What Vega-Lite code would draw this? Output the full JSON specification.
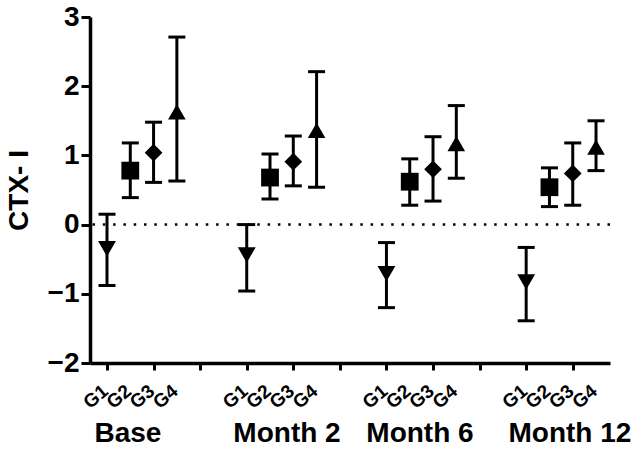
{
  "$schema": "https://vega.github.io/schema/vega-lite/v6.json",
  "width": 520,
  "height": 346,
  "autosize": "none",
  "padding": {"left": 90, "top": 17, "right": 30, "bottom": 89},
  "background": "white",
  "config": {
    "view": {"stroke": null},
    "font": "Liberation Sans",
    "axis": {"domainColor": "black", "tickColor": "black", "labelColor": "black", "titleColor": "black", "grid": false}
  },
  "datasets": {
    "pts": [
      {"group": "Base", "g": "G1", "slot": 0, "mean": -0.35, "lo": -0.88, "hi": 0.15},
      {"group": "Base", "g": "G2", "slot": 1, "mean": 0.78, "lo": 0.39, "hi": 1.18},
      {"group": "Base", "g": "G3", "slot": 2, "mean": 1.04, "lo": 0.61, "hi": 1.48},
      {"group": "Base", "g": "G4", "slot": 3, "mean": 1.63, "lo": 0.63, "hi": 2.71},
      {"group": "Month 2", "g": "G1", "slot": 6, "mean": -0.44, "lo": -0.96, "hi": 0.0},
      {"group": "Month 2", "g": "G2", "slot": 7, "mean": 0.68, "lo": 0.37, "hi": 1.02},
      {"group": "Month 2", "g": "G3", "slot": 8, "mean": 0.91, "lo": 0.56, "hi": 1.28},
      {"group": "Month 2", "g": "G4", "slot": 9, "mean": 1.36, "lo": 0.54, "hi": 2.21},
      {"group": "Month 6", "g": "G1", "slot": 12, "mean": -0.71, "lo": -1.2, "hi": -0.26},
      {"group": "Month 6", "g": "G2", "slot": 13, "mean": 0.62, "lo": 0.28, "hi": 0.95},
      {"group": "Month 6", "g": "G3", "slot": 14, "mean": 0.8, "lo": 0.34, "hi": 1.27},
      {"group": "Month 6", "g": "G4", "slot": 15, "mean": 1.17, "lo": 0.67, "hi": 1.72},
      {"group": "Month 12", "g": "G1", "slot": 18, "mean": -0.83, "lo": -1.39, "hi": -0.33},
      {"group": "Month 12", "g": "G2", "slot": 19, "mean": 0.54, "lo": 0.26, "hi": 0.82},
      {"group": "Month 12", "g": "G3", "slot": 20, "mean": 0.74, "lo": 0.28, "hi": 1.18},
      {"group": "Month 12", "g": "G4", "slot": 21, "mean": 1.12, "lo": 0.78, "hi": 1.5}
    ],
    "groups": [
      {"label": "Base", "pos": 0.9, "yv": -3.02},
      {"label": "Month 2", "pos": 7.73, "yv": -3.02},
      {"label": "Month 6", "pos": 13.44, "yv": -3.02},
      {"label": "Month 12", "pos": 19.88, "yv": -3.02}
    ],
    "zero": [{"z": 0}]
  },
  "layer": [
    {
      "data": {"name": "zero"},
      "mark": {"type": "rule", "strokeDash": [2.5, 7.8], "strokeWidth": 2.5, "color": "black"},
      "encoding": {
        "y": {"field": "z", "type": "quantitative", "scale": {"domain": [-2, 3], "nice": false, "zero": false},
          "axis": {"values": [-2, -1, 0, 1, 2, 3], "format": "d", "domainWidth": 3.5, "tickWidth": 3, "tickSize": 9, "labelFontSize": 28, "labelFontWeight": "bold", "labelPadding": 2, "title": "CTX- I", "titleFontSize": 28, "titleFontWeight": "bold", "titlePadding": 14}}
      }
    },
    {
      "data": {"name": "pts"},
      "mark": {"type": "rule", "strokeWidth": 3, "color": "black"},
      "encoding": {
        "x": {"field": "slot", "type": "quantitative", "scale": {"domain": [-0.73, 21.6], "nice": false, "zero": false},
          "axis": {"values": [0,1,2,3,4,5,6,7,8,9,10,11,12,13,14,15,16,17,18,19,20,21], "labels": false, "domainWidth": 3.5, "tickWidth": 3, "tickSize": 7, "title": null}},
        "y": {"field": "lo", "type": "quantitative"},
        "y2": {"field": "hi"}
      }
    },
    {
      "data": {"name": "pts"},
      "mark": {"type": "tick", "orient": "horizontal", "size": 17, "thickness": 3, "color": "black", "opacity": 1},
      "encoding": {
        "x": {"field": "slot", "type": "quantitative"},
        "y": {"field": "lo", "type": "quantitative"}
      }
    },
    {
      "data": {"name": "pts"},
      "mark": {"type": "tick", "orient": "horizontal", "size": 17, "thickness": 3, "color": "black", "opacity": 1},
      "encoding": {
        "x": {"field": "slot", "type": "quantitative"},
        "y": {"field": "hi", "type": "quantitative"}
      }
    },
    {
      "data": {"name": "pts"},
      "mark": {"type": "point", "filled": true, "color": "black", "opacity": 1},
      "encoding": {
        "x": {"field": "slot", "type": "quantitative"},
        "y": {"field": "mean", "type": "quantitative"},
        "shape": {"field": "g", "type": "nominal", "scale": {"domain": ["G1", "G2", "G3", "G4"], "range": ["triangle-down", "square", "diamond", "triangle-up"]}, "legend": null},
        "size": {"field": "g", "type": "nominal", "scale": {"domain": ["G1", "G2", "G3", "G4"], "range": [320, 310, 270, 320]}, "legend": null}
      }
    },
    {
      "data": {"name": "pts"},
      "mark": {"type": "text", "fontSize": 19, "fontWeight": "bold", "color": "black", "baseline": "middle", "align": "right", "angle": -40, "dx": -2, "clip": false},
      "encoding": {
        "x": {"field": "slot", "type": "quantitative"},
        "y": {"datum": -2.35, "type": "quantitative"},
        "text": {"field": "g"}
      }
    },
    {
      "data": {"name": "groups"},
      "mark": {"type": "text", "fontSize": 28, "fontWeight": "bold", "color": "black", "baseline": "middle", "align": "center", "clip": false},
      "encoding": {
        "x": {"field": "pos", "type": "quantitative"},
        "y": {"field": "yv", "type": "quantitative"},
        "text": {"field": "label"}
      }
    }
  ]
}
